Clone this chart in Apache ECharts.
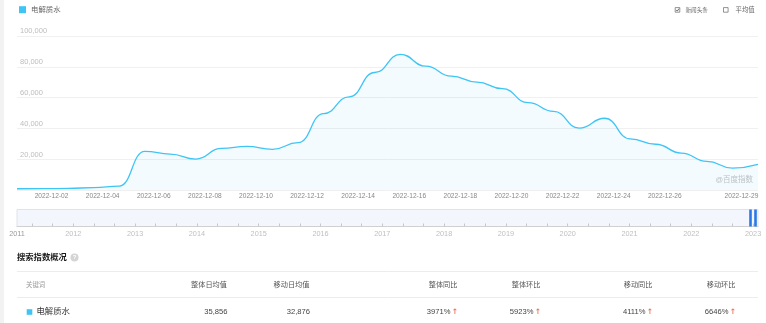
<!DOCTYPE html>
<html><head><meta charset="utf-8">
<script src="https://cdn.jsdelivr.net/npm/echarts@6/dist/echarts.min.js"></script>
<style>html,body{margin:0;padding:0;background:#fff;}#c{width:766px;height:323px;}</style>
</head><body><div id="c"></div>
<script>
const seriesName = '电解质水';
const dates = ['2022-12-01','2022-12-02','2022-12-03','2022-12-04','2022-12-05','2022-12-06','2022-12-07','2022-12-08','2022-12-09','2022-12-10',
  '2022-12-11','2022-12-12','2022-12-13','2022-12-14','2022-12-15','2022-12-16','2022-12-17','2022-12-18','2022-12-19','2022-12-20',
  '2022-12-21','2022-12-22','2022-12-23','2022-12-24','2022-12-25','2022-12-26','2022-12-27','2022-12-28','2022-12-29','2022-12-30'];
const values = [800, 900, 1000, 1600, 2500, 25100, 23300, 20100, 27000, 28300,
  26400, 30700, 49600, 60500, 76300, 88100, 80400, 73900, 70100, 65800,
  56700, 51100, 40200, 46600, 33200, 29700, 24000, 18600, 14200, 16600];
const shownDateLabels = ['2022-12-02','2022-12-04','2022-12-06','2022-12-08','2022-12-10','2022-12-12','2022-12-14',
  '2022-12-16','2022-12-18','2022-12-20','2022-12-22','2022-12-24','2022-12-26','2022-12-29'];
const yMax = 100000, yInterval = 20000;
const sliderFirstYear = 2011;
const sliderYears = [2012,2013,2014,2015,2016,2017,2018,2019,2020,2021,2022,2023];
const sliderRange = [2011.089, 2023.079];
const sliderHandles = [2022.959, 2023.033];
const watermark = '@百度指数';
const topOptions = ['新闻头条', '平均值'];
const overviewTitle = '搜索指数概况';
const tableHeaders = ['关键词','整体日均值','移动日均值','整体同比','整体环比','移动同比','移动环比'];
const tableValues = ['35,856','32,876','3971%','5923%','4111%','6646%'];
const tableArrows = [false, false, true, true, true, true];

const FONT = '"Liberation Sans", "Noto Sans CJK SC", sans-serif';
const CYAN = '#3ec5f6';

const sliderTicks = [];
[sliderFirstYear].concat(sliderYears).forEach(y => { sliderTicks.push(y, y + 1/3, y + 2/3); });

const chart = echarts.init(document.getElementById('c'), null, {renderer: 'canvas'});

const headerRight = [null, 227, 309.5, 457.5, 540.5, 652.5, 735.5];
const graphics = [
  {type:'rect', shape:{x:0,y:0,width:4,height:323}, style:{fill:'#f2f2f2'}, silent:true},
  {type:'rect', shape:{x:675.2,y:7.6,width:4.6,height:4.6}, style:{fill:'#fff', stroke:'#666', lineWidth:0.7}},
  {type:'polyline', shape:{points:[[676.1,9.9],[677.3,11.1],[679.0,8.6]]}, style:{stroke:'#444', lineWidth:0.8, fill:null}},
  {type:'text', x:685.5, y:10, style:{text:topOptions[0], fill:'#666', fontSize:5.6, fontFamily:FONT, verticalAlign:'middle'}},
  {type:'rect', shape:{x:723.5,y:7.6,width:4.6,height:4.6}, style:{fill:'#fff', stroke:'#666', lineWidth:0.7}},
  {type:'text', x:735.5, y:10, style:{text:topOptions[1], fill:'#666', fontSize:6.4, fontFamily:FONT, verticalAlign:'middle'}},
  {type:'text', x:753, y:180, style:{text:watermark, fill:'#c4c4c4', fontSize:7.5, fontFamily:FONT, align:'right', verticalAlign:'middle'}},
  {type:'text', x:17, y:257.5, style:{text:overviewTitle, fill:'#1a1a1a', fontSize:8.3, fontWeight:'bold', fontFamily:FONT, verticalAlign:'middle'}},
  {type:'circle', shape:{cx:74.5, cy:257.5, r:4}, style:{fill:'#d4d4d4'}},
  {type:'text', x:74.5, y:257.8, style:{text:'?', fill:'#fff', fontSize:6, fontWeight:'bold', fontFamily:FONT, align:'center', verticalAlign:'middle'}},
  {type:'line', shape:{x1:17,y1:271.5,x2:758,y2:271.5}, style:{stroke:'#ececec', lineWidth:1}},
  {type:'line', shape:{x1:17,y1:297.5,x2:758,y2:297.5}, style:{stroke:'#ececec', lineWidth:1}},
  {type:'text', x:26, y:285, style:{text:tableHeaders[0], fill:'#999', fontSize:6.4, fontFamily:FONT, verticalAlign:'middle'}},
  {type:'rect', shape:{x:26.7,y:309.2,width:5.6,height:5.6}, style:{fill:CYAN}},
  {type:'text', x:36.5, y:312, style:{text:seriesName, fill:'#333', fontSize:8.4, fontFamily:FONT, verticalAlign:'middle'}}
];
for (let i = 1; i < tableHeaders.length; i++) {
  graphics.push({type:'text', x:headerRight[i], y:285, style:{text:tableHeaders[i], fill:'#555', fontSize:7.2, fontFamily:FONT, align:'right', verticalAlign:'middle'}});
  const hasArrow = tableArrows[i-1];
  const vx = hasArrow ? headerRight[i] - 7 : headerRight[i] + 0.5;
  graphics.push({type:'text', x:vx, y:311.5, style:{text:tableValues[i-1], fill:'#444', fontSize:7.6, fontFamily:FONT, align:'right', verticalAlign:'middle'}});
  if (hasArrow) {
    graphics.push({type:'text', x:headerRight[i] - 2.5, y:312.5, style:{text:'↑', fill:'#f0735a', fontSize:7.5, fontWeight:'bold', fontFamily:'"DejaVu Sans", sans-serif', align:'center', verticalAlign:'middle'}});
  }
}

chart.setOption({
  animation: false,
  backgroundColor: '#fff',
  textStyle: {fontFamily: FONT},
  legend: {
    data: [seriesName], left: 19, top: 6, padding: 0, icon: 'rect', itemWidth: 7, itemHeight: 7,
    textStyle: {fontSize: 7.4, color: '#666', fontFamily: FONT}
  },
  grid: [
    {left: 17, right: 8, top: 36, height: 154},
    {left: 17, right: 8, top: 209.5, height: 17, show: true, backgroundColor: '#f3f7fd', borderColor: '#dfe3ea', borderWidth: 1}
  ],
  xAxis: [
    {
      type: 'category', gridIndex: 0, data: dates, boundaryGap: false,
      axisLine: {show: false}, axisTick: {show: false},
      axisLabel: {
        interval: (idx, val) => shownDateLabels.includes(val),
        color: '#888', fontSize: 6.6, margin: 3.3, padding: [0, 0, 0, 18], hideOverlap: false, fontFamily: FONT
      },
      splitLine: {show: false}
    },
    {
      type: 'value', gridIndex: 1, min: sliderRange[0], max: sliderRange[1],
      axisLine: {show: true, lineStyle: {color: '#d0d0d0', width: 1}},
      axisTick: {show: true, inside: true, length: 3, customValues: sliderTicks, lineStyle: {color: '#c8c8c8'}},
      axisLabel: {
        customValues: [sliderRange[0]].concat(sliderYears),
        formatter: v => v < sliderYears[0] ? '{a|' + sliderFirstYear + '}' : String(Math.round(v)),
        color: '#c0c0c0', fontSize: 7.3, margin: 3.5, fontFamily: FONT,
        rich: {a: {color: '#9a9a9a', fontSize: 7.3, fontFamily: FONT}}
      },
      splitLine: {show: false}
    }
  ],
  yAxis: [
    {
      type: 'value', gridIndex: 0, min: 0, max: yMax, interval: yInterval,
      axisLine: {show: false}, axisTick: {show: false},
      axisLabel: {
        inside: true, showMinLabel: false, margin: 3, verticalAlign: 'bottom', padding: [0, 0, 1, 0],
        color: '#bdbdbd', fontSize: 7.5, fontFamily: FONT,
        formatter: v => v.toLocaleString('en-US')
      },
      splitLine: {lineStyle: {color: '#f0f0f0', width: 1}}
    },
    {type: 'value', gridIndex: 1, min: 0, max: 1, show: false}
  ],
  series: [
    {
      name: seriesName, type: 'line', xAxisIndex: 0, yAxisIndex: 0, data: values,
      smooth: 0.5, smoothMonotone: 'x', showSymbol: false, symbol: 'none',
      lineStyle: {color: CYAN, width: 1.3}, itemStyle: {color: CYAN},
      areaStyle: {color: 'rgba(70,185,235,0.085)'}
    },
    {
      name: 'slider', type: 'line', xAxisIndex: 1, yAxisIndex: 1,
      data: [[sliderRange[0], -5]], showSymbol: false, symbol: 'none', lineStyle: {opacity: 0}, silent: true,
      markLine: {
        silent: true, symbol: 'none', label: {show: false},
        lineStyle: {color: '#2a78e4', width: 2.6, type: 'solid'},
        data: sliderHandles.map(v => ({xAxis: v}))
      }
    }
  ],
  graphic: graphics
});
</script>
</body></html>
